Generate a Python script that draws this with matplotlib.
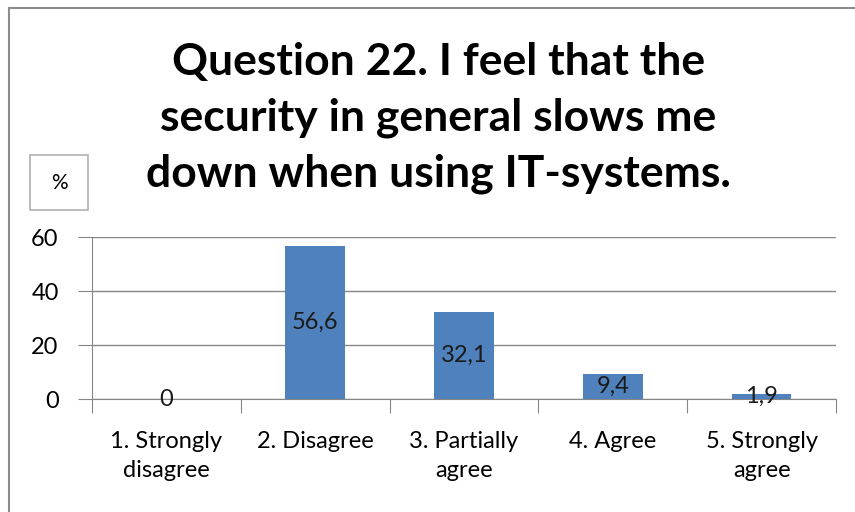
import matplotlib.pyplot as plt
from matplotlib.lines import Line2D
from matplotlib.patches import Rectangle

categories = ["1. Strongly\ndisagree", "2. Disagree", "3. Partially\nagree", "4. Agree", "5. Strongly\nagree"]
values = [0, 56.6, 32.1, 9.4, 1.9]
value_labels = ["0", "56,6", "32,1", "9,4", "1,9"]
yticks = [0, 20, 40, 60]

plt.rcParams['font.family'] = ['Lato', 'DejaVu Sans']

fig = plt.figure(figsize=(8.55, 5.12), dpi=100)
W, H = 855, 512

# plot area in pixels (left, bottom-from-top)
x0, x1 = 92, 836
ytop, ybot = 237, 399
ax = fig.add_axes([x0 / W, 1 - ybot / H, (x1 - x0) / W, (ybot - ytop) / H])

pos = list(range(len(categories)))
ax.bar(pos, values, width=0.4, color="#4F81BD", zorder=3)
for p, v, lab in zip(pos, values, value_labels):
    ax.text(p, v / 2, lab, ha="center", va="center", fontsize=17, color="#1a1a1a", zorder=4)

ax.set_xlim(-0.5, len(categories) - 0.5)
ax.set_ylim(0, 60)
ax.set_yticks(yticks)
ax.set_yticklabels([str(t) for t in yticks], fontsize=17)
ax.yaxis.grid(True, color="#868686", linewidth=1.0, zorder=0)
ax.tick_params(axis="y", length=10, color="#868686", pad=14)

ax.set_xticks([p + 0.5 for p in pos[:-1]] + [-0.5, len(categories) - 0.5], minor=False)
ax.set_xticklabels([])
ax.tick_params(axis="x", length=10, color="#868686")
ax.set_xticks(pos, minor=True)
ax.set_xticklabels(categories, minor=True, fontsize=17, linespacing=1.5)
ax.tick_params(axis="x", which="minor", length=0, pad=23)

for side in ["top", "right"]:
    ax.spines[side].set_visible(False)
for side in ["left", "bottom"]:
    ax.spines[side].set_color("#868686")

fig.text(0.513, 1 - 118 / H, "Question 22. I feel that the\nsecurity in general slows me\ndown when using IT-systems.",
         ha="center", va="center", fontsize=32, fontweight="bold", linespacing=1.48)

# "%" unit box
fig.patches.append(Rectangle((30 / W, 1 - 210 / H), 58 / W, 55 / H, transform=fig.transFigure,
                             fill=False, edgecolor="#b0b0b0", linewidth=1.2))
fig.text(59 / W, 1 - 183 / H, "%", ha="center", va="center", fontsize=15)

# chart frame
fig.add_artist(Line2D([9 / W, 9 / W], [0, 1 - 8 / H], color="#8c8c8c", linewidth=1.5))
fig.add_artist(Line2D([9 / W, 1], [1 - 8 / H, 1 - 8 / H], color="#8c8c8c", linewidth=1.5))

fig.savefig("out.png", dpi=100)
